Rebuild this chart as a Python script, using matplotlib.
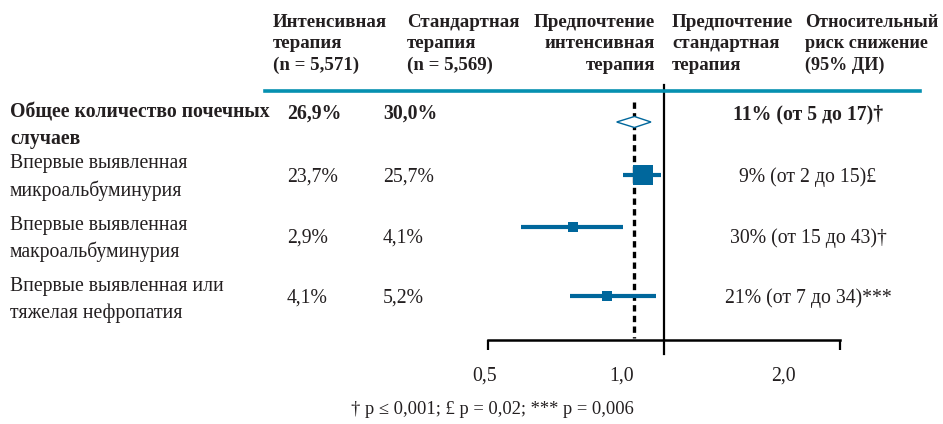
import matplotlib
matplotlib.use("Agg")
import matplotlib.pyplot as plt
from matplotlib.lines import Line2D

# ---------------- data ----------------
categories = ["Общее количество почечных\nслучаев",
              "Впервые выявленная\nмикроальбуминурия",
              "Впервые выявленная\nмакроальбуминурия",
              "Впервые выявленная или\nтяжелая нефропатия"]
intensive = ["26,9%", "23,7%", "2,9%", "4,1%"]
standard = ["30,0%", "25,7%", "4,1%", "5,2%"]
hr = [0.89, 0.92, 0.70, 0.80]
ci_lo = [0.83, 0.85, 0.57, 0.69]
ci_hi = [0.95, 0.99, 0.85, 0.97]
rrr = ["11% (от 5 до 17)†", "9% (от 2 до 15)£", "30% (от 15 до 43)†", "21% (от 7 до 34)***"]
overall_hr = 0.89
tick_values = [0.5, 1.0, 2.0]
tick_labels = ["0,5", "1,0", "2,0"]
headers = ["Интенсивная\nтерапия\n(n = 5,571)",
           "Стандартная\nтерапия\n(n = 5,569)",
           "Предпочтение\nинтенсивная\nтерапия",
           "Предпочтение\nстандартная\nтерапия",
           "Относительный\nриск снижение\n(95% ДИ)"]
footnote = "† p ≤ 0,001; £ p = 0,02; *** p = 0,006"

# ---------------- layout ----------------
W, H = 943, 424
fig = plt.figure(figsize=(W / 100, H / 100), dpi=100)
FONT = "Liberation Serif"
BLUE = "#00679c"
TEAL = "#0590b0"
TXT = "#231f20"
FS = 14.2
HDR_FS = [13.6, 13.6, 13.6, 13.6, 13.1]


def fx(px):
    return px / W


def fy(py):
    return 1 - py / H


# forest axes: x log scale 0.5..2.0 spans 488..840 px, y in pixel-from-top units 85..340
ax_left, ax_right, ax_top, ax_bot = 488, 840, 85, 340
ax = fig.add_axes([fx(ax_left), fy(ax_bot), (ax_right - ax_left) / W, (ax_bot - ax_top) / H])
ax.set_xscale("log")
ax.set_xlim(0.5, 2.0)
ax.set_ylim(ax_bot, ax_top)
ax.patch.set_alpha(0)
for s in ["top", "left", "right"]:
    ax.spines[s].set_visible(False)
ax.spines["bottom"].set_linewidth(1.8)
ax.set_yticks([])
ax.set_xticks([tick_values[0], tick_values[-1]])
ax.set_xticklabels([])
ax.xaxis.set_minor_locator(matplotlib.ticker.NullLocator())
ax.tick_params(axis="x", direction="out", length=7.5, width=1.6, color="black")

# vertical line of no effect
ax.plot([1.0, 1.0], [ax_top, 354], color="black", lw=1.6, clip_on=False, zorder=3)
# dotted line at overall effect
ax.plot([overall_hr, overall_hr], [102, 338], color="black", lw=2.4,
        linestyle=(0, (1.9, 1.3)), zorder=2)

mark_y = [122, 175, 227, 296]
marker_sizes = [None, 14.5, 6.8, 6.8]
for i in range(len(categories)):
    y = mark_y[i]
    if i == 0:
        dh = 5.5
        ax.fill([ci_lo[i], hr[i], ci_hi[i], hr[i]], [y, y - dh, y, y + dh],
                facecolor="white", edgecolor=BLUE, lw=1.0, zorder=4)
    else:
        ax.plot([ci_lo[i], ci_hi[i]], [y, y], color=BLUE, lw=3.0, solid_capstyle="butt", zorder=4)
        ax.plot([hr[i]], [y], marker="s", markersize=marker_sizes[i], color=BLUE,
                markeredgewidth=0, zorder=5)

# tick labels
tick_label_x = [485, 622, 783]
for lab, x in zip(tick_labels, tick_label_x):
    fig.text(fx(x), fy(376), lab, ha="center", va="center", fontsize=FS, family=FONT, color=TXT)

# header blue rule
fig.add_artist(Line2D([fx(265), fx(920)], [fy(91), fy(91)], color=TEAL, lw=2.6))

# headers
hdr_x = [273, 407, 655, 672, 805]
hdr_ha = ["left", "left", "right", "left", "left"]
for txt, x, ha, fs in zip(headers, hdr_x, hdr_ha, HDR_FS):
    fig.text(fx(x), fy(44), txt, ha=ha, va="center", fontsize=fs, family=FONT,
             weight="bold", color=TXT, linespacing=1.33, multialignment=ha)

# rows
label_y = [126, 177.5, 239, 300]
num_y = [114, 177, 238, 298]
for i in range(len(categories)):
    w = "bold" if i == 0 else "normal"
    fig.text(fx(10), fy(label_y[i]), categories[i], ha="left", va="center", fontsize=FS,
             family=FONT, weight=w, color=TXT, linespacing=1.45)
    fig.text(fx(287), fy(num_y[i]), intensive[i], ha="left", va="center", fontsize=FS,
             family=FONT, weight=w, color=TXT)
    fig.text(fx(383), fy(num_y[i]), standard[i], ha="left", va="center", fontsize=FS,
             family=FONT, weight=w, color=TXT)
    fig.text(fx(808), fy(num_y[i]), rrr[i], ha="center", va="center", fontsize=FS,
             family=FONT, weight=w, color=TXT)

fig.text(fx(492), fy(410), footnote, ha="center", va="center", fontsize=13.3,
         family=FONT, color=TXT)

fig.savefig("out.png", dpi=100)
